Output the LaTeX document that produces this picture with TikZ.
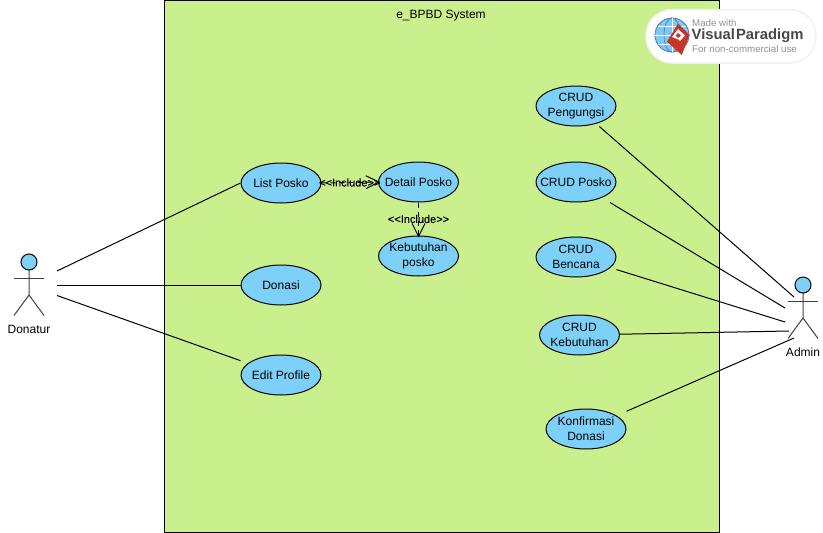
\documentclass[tikz,border=0pt]{standalone}
\usepackage{fontspec}
\setmainfont{Liberation Sans}
\newfontfamily\includefont{Liberation Sans}[FakeBold=0.3]
\usetikzlibrary{arrows.meta, positioning}
\definecolor{SystemColor}{RGB}{201,240,141}
\definecolor{UseCaseColor}{RGB}{125,208,247}
\definecolor{LogoRed}{RGB}{201,52,40}
\definecolor{LogoBlue}{RGB}{128,200,243}
\definecolor{LogoLine}{RGB}{70,125,165}
\definecolor{LogoGray}{RGB}{145,145,148}
\definecolor{LogoDark}{RGB}{72,72,76}
\tikzset{
  usecase/.style={rectangle, minimum width=81pt, minimum height=41pt, inner sep=0pt, outer sep=0pt, align=center,
    font=\fontsize{12}{14.6}\selectfont,
    path picture={\draw[fill=UseCaseColor, line width=1pt] (path picture bounding box.center) ellipse [x radius=40pt, y radius=20pt];}},
  assoc/.style={line width=1pt},
  include/.style={line width=1pt, dash pattern=on 5pt off 4pt, -{Straight Barb[length=13pt,width=13pt]}, shorten >=-2pt},
  includelabel/.style={font=\includefont\fontsize{11}{13}\selectfont, inner sep=0pt},
  actorline/.style={line width=1pt, black!75},
  actorlabel/.style={font=\fontsize{12}{14}\selectfont, inner sep=0pt}
}

\begin{document}
\begin{tikzpicture}[x=1pt,y=-1pt]
  \useasboundingbox (0,0) rectangle (823,533);

  % system boundary
  \draw[fill=SystemColor, line width=1pt] (164.5,0) rectangle (719.5,532);
  \node[font=\fontsize{12}{14}\selectfont, inner sep=0pt] (systemtitle) at (441,15.5) {e\_BPBD System};

  % use cases
  \foreach \nm/\x/\y/\txt in {listposko/281/183/{List Posko},
      donasi/281/285/{Donasi},
      editprofile/281/375/{Edit Profile},
      detailposko/418.5/182/{Detail Posko},
      kebutuhanposko/418.5/256/{Kebutuhan\\posko},
      crudpengungsi/576/106/{CRUD\\Pengungsi},
      crudposko/576/182/{CRUD Posko},
      crudbencana/576/257/{CRUD\\Bencana},
      crudkebutuhan/579.5/335/{CRUD\\Kebutuhan},
      konfirmasi/586/429/{Konfirmasi\\Donasi}}
  {
    \node[usecase] (\nm) at (\x,\y) {\txt};
  }

  % actors
  \foreach \nm/\x/\y/\txt in {donatur/29/262/Donatur, admin/803/285/Admin}
  {
    \begin{scope}[shift={(\x,\y)}]
      \draw[actorline] (-15,16.5) -- (15,16.5);
      \draw[actorline] (0,8) -- (0,33) -- (-15,53.5);
      \draw[actorline] (0,33) -- (15,53.5);
      \draw[fill=UseCaseColor, line width=1pt] (0,0) circle (8);
      \node[actorlabel] (\nm) at (0,67) {\txt};
    \end{scope}
  }

  % free ends beside the actors
  \coordinate (donaturA) at (57,271);
  \coordinate (donaturB) at (57,285);
  \coordinate (donaturC) at (57,295.5);
  \coordinate (adminA) at (794,297);
  \coordinate (adminB) at (785,308);
  \coordinate (adminC) at (785,322);
  \coordinate (adminD) at (789,331);
  \coordinate (adminE) at (794,338);

  \draw[assoc] (donaturA) -- (listposko.west);
  \draw[assoc] (donaturB) -- (donasi.west);
  \draw[assoc] (donaturC) -- (editprofile);
  \foreach \from/\to in {crudpengungsi/adminA, crudposko/adminB, crudbencana/adminC, crudkebutuhan/adminD, konfirmasi/adminE}
    \draw[assoc] (\from) -- (\to);

  \draw[include] (listposko.east) -- (detailposko.west) node[includelabel, midway] (includeA) {<<Include>>};
  \draw[include] (detailposko.south) -- (kebutuhanposko.north) node[includelabel, midway] (includeB) {<<Include>>};

  % watermark
  \begin{scope}
    \draw[fill=white, draw=black!5, line width=1.5pt, rounded corners=26pt] (646,9.5) rectangle (816,63);
    \fill[LogoBlue] (672,35) circle (17);
    \draw[LogoLine, line width=0.8pt] (672,35) circle (17);
    \draw[LogoLine, line width=0.6pt] (672,35) ellipse [x radius=8, y radius=17];
    \draw[white, line width=0.8pt] (655,35) -- (689,35);
    \draw[white, line width=0.8pt] (658,26) -- (686,26);
    \draw[white, line width=0.8pt] (658,44) -- (686,44);
    \draw[white, line width=0.8pt] (672,18) -- (672,52);
    \fill[LogoRed] (678,23.5) -- (689.5,35) -- (681.7,55) -- (667,41.7) -- cycle;
    \fill[white] (678,29) -- (685,35.5) -- (680,41) -- (678.5,39.5) -- (672,37) -- cycle;
    \fill[LogoRed] (678,33) -- (681,35.5) -- (678,38) -- (675.5,35.5) -- cycle;
    \node[font=\fontsize{9.7}{11}\selectfont, text=LogoGray, anchor=west, inner sep=0pt] (logomade) at (692,23.5) {Made with};
    \node[font=\bfseries\fontsize{14.8}{16}\selectfont, text=LogoDark, anchor=west, inner sep=0pt] (logoname) at (691.5,35.5) {Visual\hspace{1pt}Paradigm};
    \node[font=\fontsize{9.7}{11}\selectfont, text=LogoGray, anchor=west, inner sep=0pt] (logouse) at (692,49) {For non-commercial use};
  \end{scope}
\end{tikzpicture}
\end{document}
